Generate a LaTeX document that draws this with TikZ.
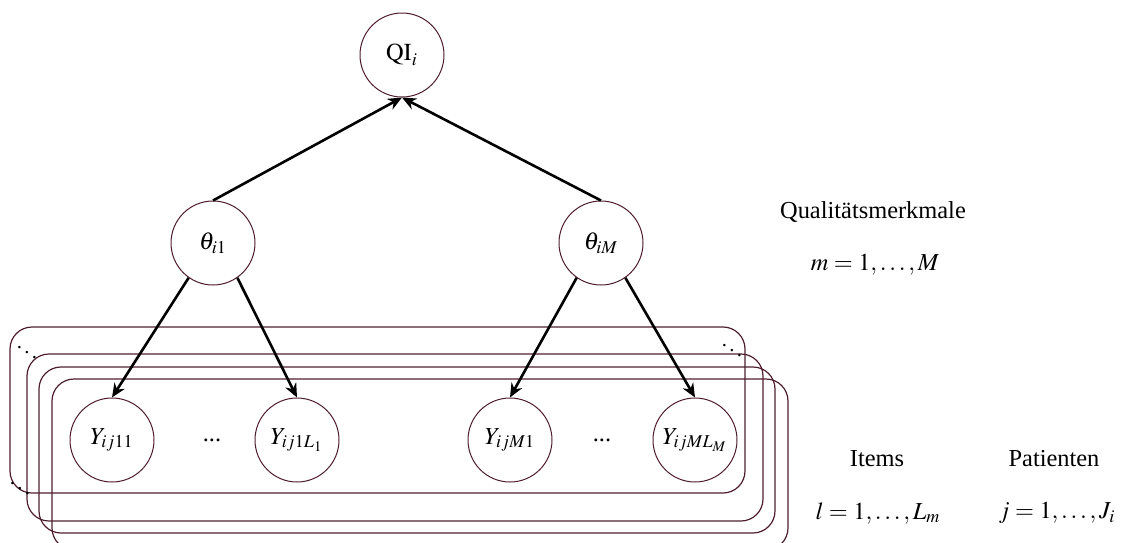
\documentclass[tikz,border=0pt]{standalone}
\usepackage{mathptmx}
\usepackage{fontspec}
\setmainfont{Liberation Serif}
\usepackage{tikz}
\usetikzlibrary{arrows.meta}

\definecolor{platecol}{RGB}{78,30,48}

\tikzset{
  var/.style={draw=platecol,circle,minimum size=42pt,inner sep=0pt,line width=0.5pt},
  plate/.style={draw=platecol,rounded corners=11pt,line width=0.6pt},
  dep/.style={-{Stealth[length=7pt,width=6pt]},line width=1.3pt},
  more/.style={scale=0.85,inner sep=0pt}
}

\begin{document}
\begin{tikzpicture}[x=0.5pt,y=-0.5pt,font=\fontsize{12.2}{14}\selectfont]
  \useasboundingbox (0,0) rectangle (1121,542);
  \clip (0,0) rectangle (1121,542);
  % plates
  \draw[plate] (10,327) rectangle (745,493);
  \draw[plate] (27,354) rectangle (763,521);
  \draw[plate] (39,367) rectangle (775,533);
  \draw[plate] (52,379) rectangle (788,550);
  \node[more] (dd1) at (27,347) {$\ddots$};
  \node[more] (dd2) at (20,483) {$\ddots$};
  \node[more] (dd3) at (732,345) {$\ddots$};
  % nodes
  \node[var] (qi) at (402,55) {$\mathrm{QI}_i$};
  \node[var] (th1) at (213,243) {$\theta_{i1}$};
  \node[var] (thM) at (601,243) {$\theta_{iM}$};
  \node[var] (y11) at (112,440) {$Y_{ij11}$};
  \node[var] (y1L) at (297,440) {$Y_{ij1L_1}$};
  \node[var] (yM1) at (510,440) {$Y_{ijM1}$};
  \node[var] (yML) at (695,440) {$Y_{ijML_M}$};
  \node (dots1) at (212,440) {...};
  \node (dotsM) at (602,440) {...};
  % arrows
  \draw[dep] (th1.north) -- (qi.south);
  \draw[dep] (thM.north) -- (qi.south);
  \draw[dep] (th1.-125) -- (y11.north);
  \draw[dep] (th1.-55) -- (y1L.north);
  \draw[dep] (thM.-125) -- (yM1.north);
  \draw[dep] (thM.-55) -- (yML.north);
  % labels
  \node (qm) at (873,212) {Qualitätsmerkmale};
  \node (qmidx) at (875,265) {$m = 1, \ldots, M$};
  \node (it) at (877,459) {Items};
  \node (itidx) at (878,513) {$l = 1, \ldots, L_m$};
  \node (pa) at (1054,459) {Patienten};
  \node (paidx) at (1057,513) {$j = 1, \ldots, J_i$};
\end{tikzpicture}
\end{document}
